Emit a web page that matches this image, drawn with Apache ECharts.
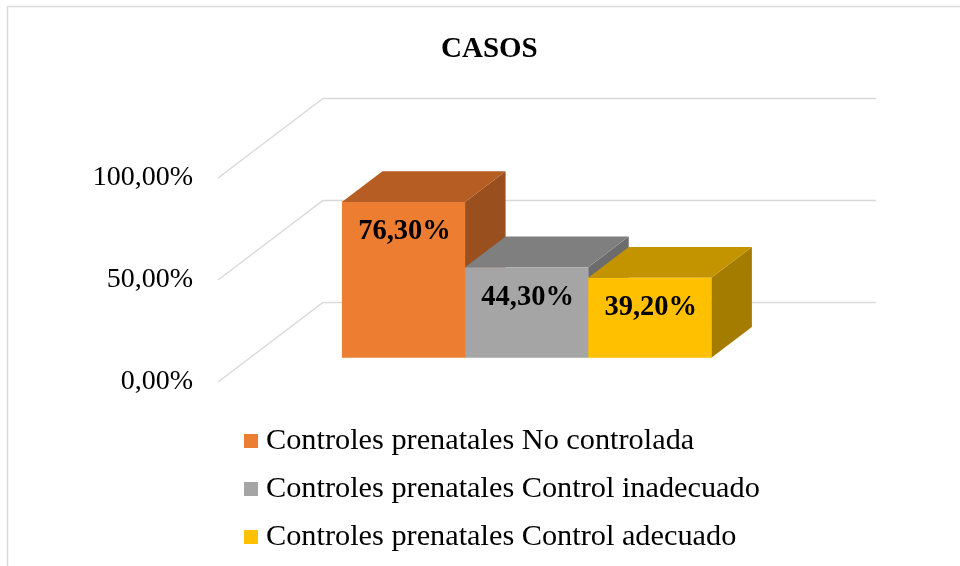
<!DOCTYPE html>
<html>
<head>
<meta charset="utf-8">
<script src="https://cdn.jsdelivr.net/npm/echarts@6/dist/echarts.min.js"></script>
<style>
  html, body { margin: 0; padding: 0; background: #fff; }
  #chart { width: 960px; height: 566px; }
</style>
</head>
<body>
<div id="chart"></div>
<script>
const seriesNames = [
  "Controles prenatales No controlada",
  "Controles prenatales Control inadecuado",
  "Controles prenatales Control adecuado",
];
const seriesValues = [0.763, 0.443, 0.392];
const yTicks = [0, 0.5, 1];

// front, top, side shades of each box
const faceColors = [
  ["#ED7D31", "#B55D22", "#9A4F1E"],
  ["#A5A5A5", "#7F7F7F", "#6C6C6C"],
  ["#FFC000", "#C49300", "#A47C00"],
];

const FONT = "'Liberation Serif', 'Times New Roman', serif";
const WALL = [105, -79.5];   // floor depth offset, front edge -> back wall
const BAR_FRONT = 0.306;     // where the boxes start in depth
const BAR_DEPTH = 0.386;     // how deep the boxes are
const BAR_RATIO = 0.2227;    // box width / category band

function pct(v) {
  return (v * 100).toFixed(2).replace(".", ",") + "%";
}

function renderWall(params, api) {
  const v = api.value(0);
  const c = api.coord([0, v]);
  const band = api.size([1, 0])[0];
  const x0 = c[0] - band / 2;
  const y0 = c[1];
  return {
    type: "polyline",
    shape: {
      points: [
        [x0, y0],
        [x0 + WALL[0], y0 + WALL[1]],
        [x0 + WALL[0] + band, y0 + WALL[1]],
      ],
    },
    style: { stroke: "#D9D9D9", lineWidth: 1.5, fill: null },
  };
}

function makeBox(i) {
  return function (params, api) {
    const v = api.value(1);
    const band = api.size([1, 0])[0];
    const w = band * BAR_RATIO;
    const top = api.coord([0, v]);
    const base = api.coord([0, 0]);
    const sx = WALL[0] * BAR_FRONT, sy = WALL[1] * BAR_FRONT;
    const dx = WALL[0] * BAR_DEPTH, dy = WALL[1] * BAR_DEPTH;
    const x1 = top[0] - 1.5 * w + i * w + sx;
    const x2 = x1 + w;
    const yt = top[1] + sy;
    const yb = base[1] + sy;
    const col = faceColors[i];
    return {
      type: "group",
      children: [
        {
          type: "polygon",
          shape: { points: [[x2, yt], [x2 + dx, yt + dy], [x2 + dx, yb + dy], [x2, yb]] },
          style: { fill: col[2] },
        },
        {
          type: "polygon",
          shape: { points: [[x1, yt], [x1 + dx, yt + dy], [x2 + dx, yt + dy], [x2, yt]] },
          style: { fill: col[1] },
        },
        {
          type: "rect",
          shape: { x: x1, y: yt, width: w, height: yb - yt },
          style: { fill: col[0] },
        },
        {
          type: "text",
          style: {
            text: pct(v),
            x: (x1 + x2) / 2 + 1,
            y: yt + 30,
            align: "center",
            verticalAlign: "middle",
            font: "bold 28.5px " + FONT,
            fill: "#000",
          },
        },
      ],
    };
  };
}

const chart = echarts.init(document.getElementById("chart"));

const boxSeries = seriesNames.map((name, i) => ({
  name: name,
  type: "custom",
  renderItem: makeBox(i),
  itemStyle: { color: faceColors[i][0] },
  clip: false,
  data: [[0, seriesValues[i]]],
}));

chart.setOption({
  animation: false,
  title: {
    text: "CASOS",
    left: 436,
    top: 30,
    textStyle: { fontFamily: FONT, fontSize: 29, fontWeight: "bold", color: "#000" },
  },
  graphic: [
    {
      type: "rect",
      shape: { x: 7.5, y: 6.5, width: 1000, height: 600 },
      style: { fill: null, stroke: "#D9D9D9", lineWidth: 1.5 },
    },
  ],
  legend: {
    data: seriesNames,
    orient: "vertical",
    left: 239,
    top: 421,
    icon: "rect",
    itemWidth: 14,
    itemHeight: 14,
    itemGap: 18,
    textStyle: { fontFamily: FONT, fontSize: 30.3, color: "#000", padding: [0, 0, 0, 3] },
  },
  grid: { left: 218, right: 189, top: 178, bottom: 184 },
  xAxis: {
    type: "category",
    data: ["CASOS"],
    axisLine: { show: false },
    axisTick: { show: false },
    axisLabel: { show: false },
  },
  yAxis: {
    type: "value",
    min: 0,
    max: 1,
    interval: 0.5,
    axisLine: { show: false },
    axisTick: { show: false },
    splitLine: { show: false },
    axisLabel: {
      margin: 25,
      formatter: pct,
      fontFamily: FONT,
      fontSize: 28,
      color: "#000",
    },
  },
  series: [
    {
      type: "custom",
      name: "walls",
      renderItem: renderWall,
      clip: false,
      silent: true,
      data: yTicks.map((t) => [t]),
      encode: { y: 0 },
    },
  ].concat(boxSeries),
});
</script>
</body>
</html>
